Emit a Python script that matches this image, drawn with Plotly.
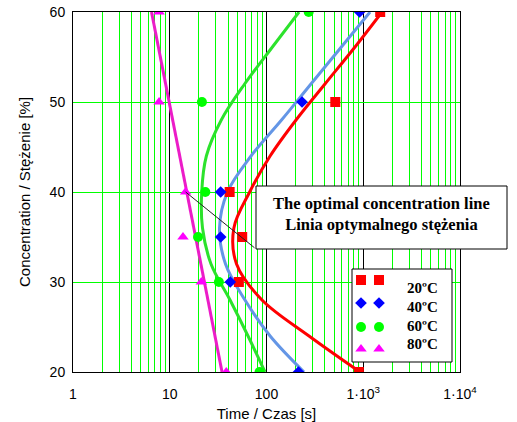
import math
import plotly.graph_objects as go

# ---- data ----
conc_pts = [60, 50, 40, 35, 30, 20]
time_20C = [1497, 514, 41.6, 56.1, 51.8, 900]
time_40C = [916, 233, 33.6, 33.6, 42.2, 214]
time_60C = [273, 21.5, 23.3, 19.6, 32.2, 84.7]
time_80C = [7.76, 7.76, 14.6, 13.7, 21.2, 38.4]

curve_c = [60, 56, 52, 48, 44, 40, 36, 32, 28, 24, 20]
curve20_t = [1563, 806, 402, 202, 109, 67, 46, 49, 89.8, 275, 925]
curve40_t = [1175, 582, 288, 143, 69.2, 39.5, 32.7, 37.7, 59.9, 109, 244]
curve60_t = [217, 113, 59.4, 34.1, 23.9, 21.4, 21.8, 26.7, 42.0, 64.4, 96.5]
curve80_t = [6.48, 34.7]
curve80_c = [60, 20]

legend_labels = ["20ºC", "40ºC", "60ºC", "80ºC"]
x_tickvals = [1, 10, 100, 1000, 10000]
x_ticktext = ["1", "10", "100", "1·10<sup>3</sup>", "1·10<sup>4</sup>"]
y_tickvals = [20, 30, 40, 50, 60]

# ---- figure ----
W, H = 517, 422
L, R, T, B = 73, 57, 12, 50
PW, PH = W - L - R, H - T - B
DEC = PW / 4.0


def px2paper(px, py):
    return (px - L) / PW, (H - B - py) / PH


def px2log(px, py):
    # returns (log10 x, y) for the main axes
    return (px - L) / DEC, 20 + (H - B - py) / PH * 40


fig = go.Figure()

curve_styles = [
    (curve20_t, curve_c, "#FF0000"),
    (curve40_t, curve_c, "#6496E6"),
    (curve60_t, curve_c, "#2CE22C"),
    (curve80_t, curve80_c, "#EC1CC8"),
]
for t, c, col in curve_styles:
    fig.add_trace(go.Scatter(x=t, y=c, mode="lines", line=dict(color=col, width=3, shape="spline", smoothing=1),
                             showlegend=False, hoverinfo="skip"))

marker_styles = [
    (time_20C, "square", "#FF0000", 10),
    (time_40C, "diamond", "#0000FF", 9),
    (time_60C, "circle", "#00FF00", 10),
    (time_80C, "triangle-up", "#FF00FF", 10),
]
for t, sym, col, sz in marker_styles:
    fig.add_trace(go.Scatter(x=t, y=conc_pts, mode="markers",
                             marker=dict(symbol=sym, color=col, size=sz, line=dict(width=0)),
                             showlegend=False))

# legend markers on an overlay axis (0..1 of plot area)
legend_rows_py = [280, 303, 327, 349]
for (t, sym, col, sz), py in zip(marker_styles, legend_rows_py):
    xs = [px2paper(361, py)[0], px2paper(379, py)[0]]
    ys = [px2paper(0, py)[1]] * 2
    fig.add_trace(go.Scatter(x=xs, y=ys, xaxis="x2", yaxis="y2", mode="markers", cliponaxis=False,
                             marker=dict(symbol=sym, color=col, size=sz, line=dict(width=0)),
                             showlegend=False, hoverinfo="skip"))

minor_vals = [m * 10 ** d for d in range(4) for m in range(2, 10)]

fig.update_layout(
    width=W, height=H,
    margin=dict(l=L, r=R, t=T, b=B, autoexpand=False),
    paper_bgcolor="white", plot_bgcolor="white",
    showlegend=False,
    font=dict(family="Liberation Sans, Arial, sans-serif", size=13, color="black"),
    xaxis=dict(type="log", range=[0, 4], tickvals=x_tickvals, ticktext=x_ticktext,
               showgrid=True, gridcolor="black", gridwidth=1, zeroline=False,
               showline=True, mirror=True, linecolor="black", linewidth=1,
               ticks="", ticklabelstandoff=9, automargin=False,
               tickfont=dict(size=14),
               minor=dict(tickvals=minor_vals, showgrid=True, gridcolor="#00FF00", gridwidth=1, ticks=""),
               title=dict(text="Time / Czas [s]", font=dict(size=15))),
    yaxis=dict(range=[20, 60], tickvals=y_tickvals, showgrid=True, gridcolor="#00FF00", gridwidth=1,
               zeroline=False, showline=True, mirror=True, linecolor="black", linewidth=1,
               ticks="", ticklabelstandoff=4, tickfont=dict(size=14), automargin=False,
               title=dict(text="Concentration / Stężenie [%]", font=dict(size=15))),
    xaxis2=dict(overlaying="x", range=[0, 1], visible=False, fixedrange=True),
    yaxis2=dict(overlaying="y", range=[0, 1], visible=False, fixedrange=True),
)

# text box (on top, may extend beyond the plot area)
bx0, by0 = px2paper(256, 249)
bx1, by1 = px2paper(507, 186)
fig.add_shape(type="rect", xref="paper", yref="paper", x0=bx0, x1=bx1, y0=by0, y1=by1,
              fillcolor="white", line=dict(color="black", width=1), layer="above")
# legend box (between grid and traces of the main axes)
lx0, ly0 = px2log(352, 362)
lx1, ly1 = px2log(452, 269)
fig.add_shape(type="rect", xref="x", yref="y", x0=10 ** lx0, x1=10 ** lx1, y0=ly0, y1=ly1,
              fillcolor="white", line=dict(color="black", width=1), layer="between")

serif = "Liberation Serif, Times New Roman, serif"
cx, cy = px2paper(381.5, 214)
fig.add_annotation(xref="paper", yref="paper", x=cx, y=cy, xanchor="center", yanchor="middle",
                   showarrow=False,
                   text="<b>The optimal concentration line<br>Linia optymalnego stężenia</b>",
                   font=dict(family=serif, size=16.5, color="black"), align="center")

for lab, py in zip(legend_labels, [288, 307, 326, 344]):
    tx, ty = px2paper(405, py)
    fig.add_annotation(xref="paper", yref="paper", x=tx, y=ty, xanchor="left", yanchor="middle",
                       showarrow=False,
                       text="<b>" + lab + "</b>", font=dict(family=serif, size=15, color="black"))

# connector line from the 80 °C point at 40 % to the text box corner
cl_x, cl_y = px2log(256, 249)
fig.add_annotation(x=math.log10(time_80C[2]), y=conc_pts[2], xref="x", yref="y",
                   ax=cl_x, ay=cl_y, axref="x", ayref="y",
                   text="", showarrow=True, arrowhead=0, arrowwidth=1, arrowcolor="#222222")

fig.write_html("out.html", config={"displayModeBar": False},
               post_script="document.body.style.margin='0px';")
